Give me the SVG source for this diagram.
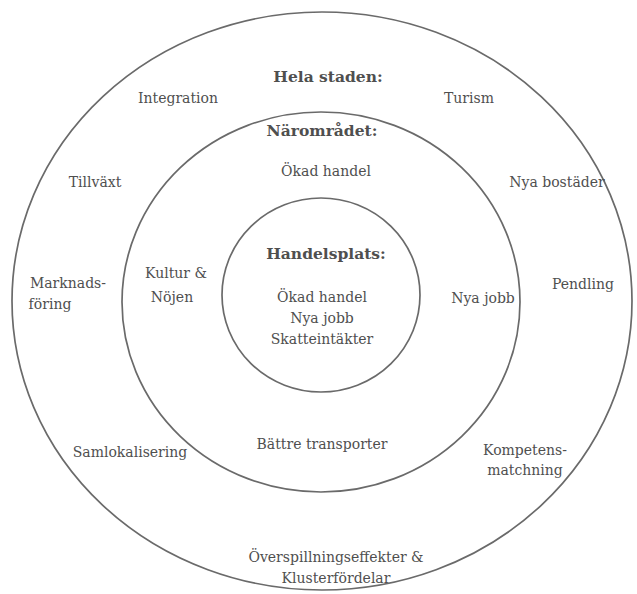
<svg xmlns="http://www.w3.org/2000/svg" width="637" height="594" viewBox="0 0 637 594">
<style>
.ring{fill:none;stroke:#6a6a6a;stroke-width:1.7}
text{font-family:"DejaVu Serif","Liberation Serif",serif;font-size:14px;fill:#4f4f4f;text-anchor:middle}
.b{font-weight:bold;font-size:15.5px}
</style>
<rect width="637" height="594" fill="#fff"/>
<g id="outer">
<ellipse class="ring" cx="322" cy="301" rx="310" ry="289"/>
<text class="b" x="328" y="82">Hela staden:</text>
<text x="178" y="103">Integration</text>
<text x="469" y="103">Turism</text>
<text x="95" y="187">Tillväxt</text>
<text x="557" y="187">Nya bostäder</text>
<text x="68" y="288">Marknads-</text>
<text x="50" y="309">föring</text>
<text x="583" y="289">Pendling</text>
<text x="130" y="457">Samlokalisering</text>
<text x="525" y="455">Kompetens-</text>
<text x="525" y="475">matchning</text>
<text x="336" y="562">Överspillningseffekter &amp;</text>
<text x="336" y="583">Klusterfördelar</text>
</g>
<g id="middle">
<ellipse class="ring" cx="321" cy="302" rx="199" ry="190"/>
<text class="b" x="322" y="136">Närområdet:</text>
<text x="326" y="176">Ökad handel</text>
<text x="176" y="278">Kultur &amp;</text>
<text x="172" y="302">Nöjen</text>
<text x="483" y="303">Nya jobb</text>
<text x="322" y="449">Bättre transporter</text>
</g>
<g id="inner">
<ellipse class="ring" cx="321" cy="295" rx="99" ry="97"/>
<text class="b" x="326" y="259">Handelsplats:</text>
<text x="322" y="302">Ökad handel</text>
<text x="322" y="323">Nya jobb</text>
<text x="322" y="344">Skatteintäkter</text>
</g>
<g id="connectors"/>
</svg>
